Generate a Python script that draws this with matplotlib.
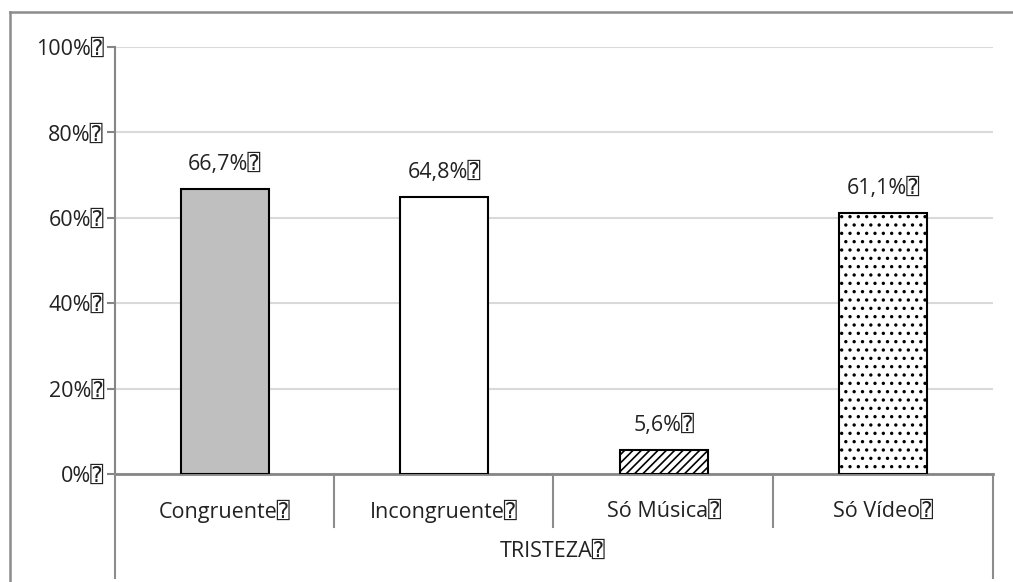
import matplotlib
matplotlib.use("Agg")
import matplotlib.pyplot as plt
from matplotlib.lines import Line2D

plt.rcParams['font.family'] = ['Open Sans', 'DejaVu Sans', 'DejaVu Sans Mono']
plt.rcParams['hatch.linewidth'] = 1.2

BOX = "\u2370"

categories = ["Congruente", "Incongruente", "Só Música", "Só Vídeo"]
values = [66.7, 64.8, 5.6, 61.1]
value_labels = ["66,7%", "64,8%", "5,6%", "61,1%"]
group_label = "TRISTEZA"
yticks = [0, 20, 40, 60, 80, 100]
ytick_labels = ["0%", "20%", "40%", "60%", "80%", "100%"]

faces = ["#BFBFBF", "white", "white", "white"]
hatches = [None, None, "////", ".."]

W, H = 1013, 582
FS = 15.5
fig = plt.figure(figsize=(W / 100, H / 100), dpi=100)

def fx(px):
    return px / W

def fy(py):
    return 1 - py / H

ax = fig.add_axes([fx(115), fy(474), fx(993) - fx(115), fy(47) - fy(474)])

x = list(range(len(categories)))
bars = ax.bar(x, values, width=0.4, color=faces, edgecolor="black",
              linewidth=1.5, zorder=3)
for b, h in zip(bars, hatches):
    if h:
        b.set_hatch(h)

for xi, v, lab in zip(x, values, value_labels):
    ax.annotate(lab + BOX, (xi, v), xytext=(0, 10), textcoords="offset points",
                ha="center", va="bottom", fontsize=FS, color="#222222")

ax.set_xlim(-0.5, len(categories) - 0.5)
ax.set_ylim(0, 100)
ax.set_yticks(yticks)
ax.set_yticklabels([t + BOX for t in ytick_labels], fontsize=FS, color="#222222")
ax.set_xticks([])
ax.grid(axis="y", color="#D9D9D9", linewidth=1.5, zorder=0)
ax.tick_params(axis="y", length=6, width=1.5, color="#868686", pad=2)

for s in ["top", "right"]:
    ax.spines[s].set_visible(False)
ax.spines["left"].set_color("#868686")
ax.spines["left"].set_linewidth(1.5)
ax.spines["bottom"].set_color("#868686")
ax.spines["bottom"].set_linewidth(2)

# category separators and group frame below the axis
gray = "#8C8C8C"
for px in [334, 553, 773]:
    fig.add_artist(Line2D([fx(px), fx(px)], [fy(474), fy(527)],
                          color=gray, linewidth=1.5))
for px in [115, 993]:
    fig.add_artist(Line2D([fx(px), fx(px)], [fy(474), fy(578)],
                          color=gray, linewidth=1.5))

for xi, cat in zip(x, categories):
    ax.annotate(cat + BOX, (xi, 0), xytext=(0, -37), textcoords="offset pixels",
                ha="center", va="center", fontsize=FS, color="#222222",
                annotation_clip=False)

fig.text(fx(553), fy(551), group_label + BOX, ha="center", va="center",
         fontsize=FS, color="#222222")

# outer chart frame
fig.add_artist(Line2D([fx(10), fx(10)], [fy(12), fy(582)], color=gray, linewidth=1.8))
fig.add_artist(Line2D([fx(10), fx(1013)], [fy(12), fy(12)], color=gray, linewidth=1.8))

fig.savefig("out.png", dpi=100, facecolor="white")
